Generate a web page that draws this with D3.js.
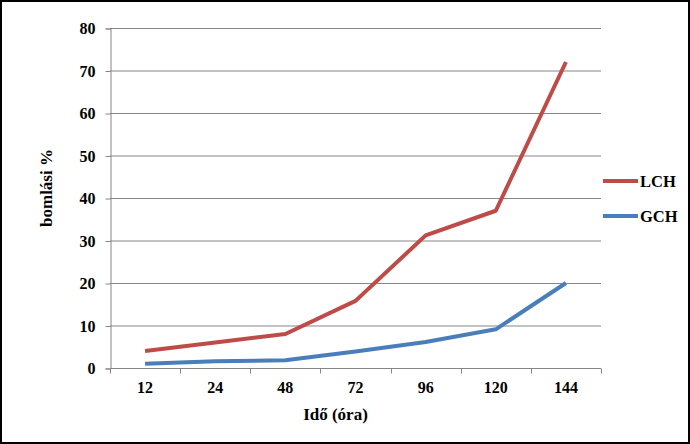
<!DOCTYPE html>
<html><head><meta charset="utf-8">
<script src="https://cdn.jsdelivr.net/npm/d3@7"></script>
<style>body{margin:0;background:#fff}svg{display:block}</style>
</head><body>
<script>
const categories = ["12","24","48","72","96","120","144"];
const lch = [4, 6, 8, 15.8, 31.2, 37, 72];
const gch = [1, 1.6, 1.8, 3.9, 6.1, 9.1, 20];
const yTicks = [0,10,20,30,40,50,60,70,80];
const seriesNames = ["LCH","GCH"];
const colors = ["#BE4B48","#4A7EBB"];

const W=690,H=444;
const svg=d3.select("body").append("svg").attr("width",W).attr("height",H);
svg.append("rect").attr("x",1).attr("y",1).attr("width",W-2).attr("height",H-2)
  .attr("fill","#fff").attr("stroke","#000").attr("stroke-width",2);

const L=110,R=601,T=28,B=368;
const x=d3.scaleBand().domain(categories).range([L,R]);
const y=d3.scaleLinear().domain([0,80]).range([B,T]);
const font="'Liberation Serif','Times New Roman',serif";

// gridlines
svg.append("g").selectAll("line").data(yTicks.filter(d=>d>0)).join("line")
  .attr("x1",L).attr("x2",R).attr("y1",d=>y(d)+0.5).attr("y2",d=>y(d)+0.5)
  .attr("stroke","#868686").attr("stroke-width",1);

// y axis
const ya=svg.append("g").attr("transform",`translate(${L+0.5},0.5)`)
  .call(d3.axisLeft(y).tickValues(yTicks).tickSize(5).tickPadding(10));
ya.select(".domain").attr("stroke","#868686");
ya.selectAll(".tick line").attr("stroke","#868686");
ya.selectAll("text").attr("font-family",font).attr("font-weight","bold").attr("font-size",16).attr("fill","#000");

// x axis
const xa=svg.append("g").attr("transform",`translate(0,${B+0.5})`)
  .call(d3.axisBottom(x).tickSize(0).tickPadding(13));
xa.select(".domain").attr("stroke","#868686").attr("d",`M${L},0H${R}`);
xa.selectAll(".tick line").remove();
xa.selectAll("text").attr("font-family",font).attr("font-weight","bold").attr("font-size",16).attr("fill","#000");
const bounds=categories.map(c=>x(c)).concat([R]);
xa.append("g").selectAll("line").data(bounds).join("line")
  .attr("x1",d=>Math.round(d)+0.5).attr("x2",d=>Math.round(d)+0.5).attr("y1",0).attr("y2",5)
  .attr("stroke","#868686");

// lines
const line=d3.line().x((d,i)=>x(categories[i])+x.bandwidth()/2).y(d=>y(d));
[lch,gch].forEach((s,i)=>{
  svg.append("path").datum(s).attr("d",line).attr("fill","none")
    .attr("stroke",colors[i]).attr("stroke-width",4).attr("stroke-linejoin","round");
});

// legend
const ly=[181,216];
seriesNames.forEach((n,i)=>{
  svg.append("line").attr("x1",603).attr("x2",638).attr("y1",ly[i]).attr("y2",ly[i])
    .attr("stroke",colors[i]).attr("stroke-width",4);
  svg.append("text").attr("x",640).attr("y",ly[i]+6).text(n)
    .attr("font-family",font).attr("font-weight","bold").attr("font-size",16.5);
});

// axis titles
svg.append("text").attr("transform",`translate(52,188) rotate(-90)`)
  .attr("text-anchor","middle").text("bomlási %")
  .attr("font-family",font).attr("font-weight","bold").attr("font-size",17);
svg.append("text").attr("x",335.5).attr("y",420).attr("text-anchor","middle").text("Idő (óra)")
  .attr("font-family",font).attr("font-weight","bold").attr("font-size",17);
</script>
</body></html>
